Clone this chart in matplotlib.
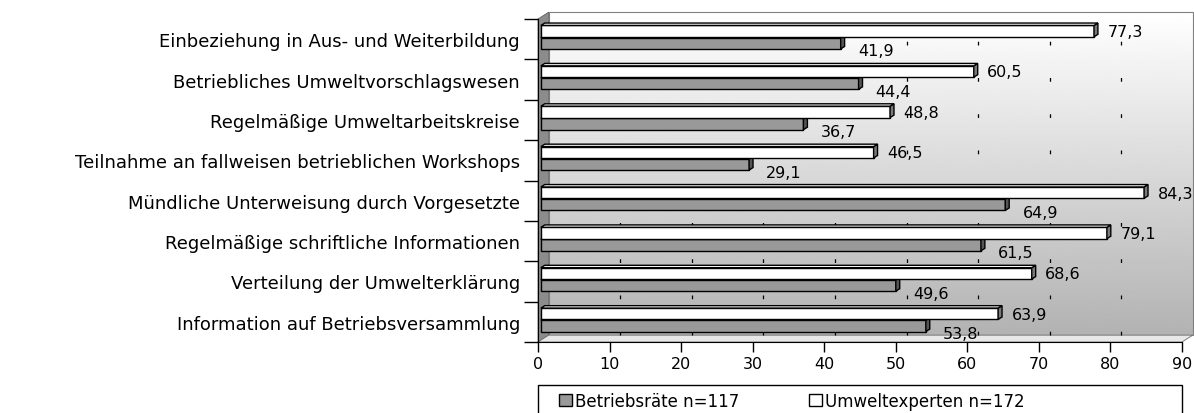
import matplotlib
matplotlib.use('Agg')
import matplotlib.pyplot as plt
import numpy as np
from matplotlib.patches import Polygon, Patch, Rectangle

# ---------------------------------------------------------------------------
# Data (top category first)
# ---------------------------------------------------------------------------
categories = [
    'Einbeziehung in Aus- und Weiterbildung',
    'Betriebliches Umweltvorschlagswesen',
    'Regelmäßige Umweltarbeitskreise',
    'Teilnahme an fallweisen betrieblichen Workshops',
    'Mündliche Unterweisung durch Vorgesetzte',
    'Regelmäßige schriftliche Informationen',
    'Verteilung der Umwelterklärung',
    'Information auf Betriebsversammlung',
]
betriebsraete = [41.9, 44.4, 36.7, 29.1, 64.9, 61.5, 49.6, 53.8]
umweltexperten = [77.3, 60.5, 48.8, 46.5, 84.3, 79.1, 68.6, 63.9]
x_ticks = [0, 10, 20, 30, 40, 50, 60, 70, 80, 90]
label_br = 'Betriebsräte n=117'
label_ue = 'Umweltexperten n=172'

# ---------------------------------------------------------------------------
# Style
# ---------------------------------------------------------------------------
W, H = 1194, 414
FONT = 'DejaVu Sans'
FS_CAT = 13
FS_VAL = 11.5
FS_TICK = 11.5
FS_LEG = 12
COLOR_BR = '#999999'
COLOR_BR_SIDE = '#555555'
COLOR_BR_TOP = '#b8b8b8'
COLOR_UE = '#ffffff'
COLOR_UE_SIDE = '#7a7a7a'
COLOR_UE_TOP = '#f2f2f2'
X_MAX = 90
DX, DY = 1.5, 0.17          # depth of the 3D box (data units)
BAR_OFF = 0.4               # bars sit slightly behind the front plane
SIDE_DX, SIDE_DY = 0.55, 0.06
BAR_H = 0.28

plt.rcParams['font.family'] = [FONT]

fig = plt.figure(figsize=(W / 100, H / 100), dpi=100)
ax = fig.add_axes([538 / W, (H - 343) / H, 644 / W, 323 / H])
n = len(categories)
centers = np.arange(n)[::-1] + 0.5
ax.set_xlim(0, X_MAX)
ax.set_ylim(0, n)
ax.patch.set_visible(False)

# back wall with vertical gradient
grad = np.linspace(0.70, 1.0, 200).reshape(-1, 1)
ax.imshow(grad, extent=[DX, X_MAX + DX, DY, n + DY], origin='lower',
          cmap='gray', vmin=0, vmax=1, aspect='auto', zorder=0, clip_on=False)
ax.add_patch(Polygon([[DX, DY], [X_MAX + DX, DY], [X_MAX + DX, n + DY], [DX, n + DY]],
                     closed=True, fill=False, edgecolor='#808080', lw=0.8,
                     zorder=0.5, clip_on=False))
# left wall
ax.add_patch(Polygon([[0, 0], [DX, DY], [DX, n + DY], [0, n]], closed=True,
                     facecolor='#8c8c8c', edgecolor='#606060', lw=0.6,
                     zorder=0.6, clip_on=False))
# floor
ax.add_patch(Polygon([[0, 0], [X_MAX, 0], [X_MAX + DX, DY], [DX, DY]], closed=True,
                     facecolor='#e8e8e8', edgecolor='#707070', lw=0.6,
                     zorder=0.6, clip_on=False))

# dashed gridlines on back wall
for xv in x_ticks[1:-1]:
    ax.plot([xv + DX, xv + DX], [DY, n + DY], color='black', lw=0.9,
            dashes=(3, 26), zorder=0.7, clip_on=False)


def bar3d(y0, value, face, side, top):
    x0, x1 = BAR_OFF, BAR_OFF + value
    ax.barh(y0 + BAR_H / 2, value, height=BAR_H, left=x0, color=face,
            edgecolor='black', lw=1.0, zorder=3)
    ax.add_patch(Polygon([[x1, y0], [x1 + SIDE_DX, y0 + SIDE_DY],
                          [x1 + SIDE_DX, y0 + BAR_H + SIDE_DY], [x1, y0 + BAR_H]],
                         closed=True, facecolor=side, edgecolor='black', lw=1.0,
                         zorder=3, clip_on=False))
    ax.add_patch(Polygon([[x0, y0 + BAR_H], [x0 + SIDE_DX, y0 + BAR_H + SIDE_DY],
                          [x1 + SIDE_DX, y0 + BAR_H + SIDE_DY], [x1, y0 + BAR_H]],
                         closed=True, facecolor=top, edgecolor='black', lw=1.0,
                         zorder=3, clip_on=False))


for c, vb, vu in zip(centers, betriebsraete, umweltexperten):
    bar3d(c - 0.24, vb, COLOR_BR, COLOR_BR_SIDE, COLOR_BR_TOP)
    bar3d(c + 0.06, vu, COLOR_UE, COLOR_UE_SIDE, COLOR_UE_TOP)
    ax.text(vu + 2.3, c + 0.19, f'{vu:.1f}'.replace('.', ','), fontsize=FS_VAL,
            ha='left', va='center', zorder=4, clip_on=False)
    ax.text(vb + 2.8, c - 0.29, f'{vb:.1f}'.replace('.', ','), fontsize=FS_VAL,
            ha='left', va='center', zorder=4, clip_on=False)

# axes
for s in ['top', 'right']:
    ax.spines[s].set_visible(False)
ax.spines['bottom'].set_zorder(5)
ax.spines['left'].set_zorder(5)
ax.set_xticks(x_ticks)
ax.tick_params(axis='x', direction='out', length=7, width=1, labelsize=FS_TICK, pad=3)
ax.set_yticks(np.arange(n + 1))
ax.set_yticklabels([])
ax.tick_params(axis='y', which='major', direction='out', length=10, width=1)
ax.set_yticks(centers, minor=True)
ax.set_yticklabels(categories, minor=True, fontsize=FS_CAT)
ax.tick_params(axis='y', which='minor', length=0, pad=13)

# legend: frame spans the plot width, entries centred inside
fig.patches.append(Rectangle((538 / W, -0.01), 644 / W, (414 - 386) / H + 0.01,
                             transform=fig.transFigure, facecolor='white',
                             edgecolor='black', lw=1.0, zorder=1))
handles = [Patch(facecolor=COLOR_BR, edgecolor='black', lw=1.0, label=label_br),
           Patch(facecolor=COLOR_UE, edgecolor='black', lw=1.0, label=label_ue)]
fig.legend(handles=handles, loc='center', ncol=2,
           bbox_to_anchor=(792 / W, (414 - 402) / H),
           frameon=False, fontsize=FS_LEG, handlelength=0.75, handleheight=0.75,
           handletextpad=0.2, columnspacing=4.2, borderaxespad=0, borderpad=0)

fig.savefig('out.png', dpi=100)
